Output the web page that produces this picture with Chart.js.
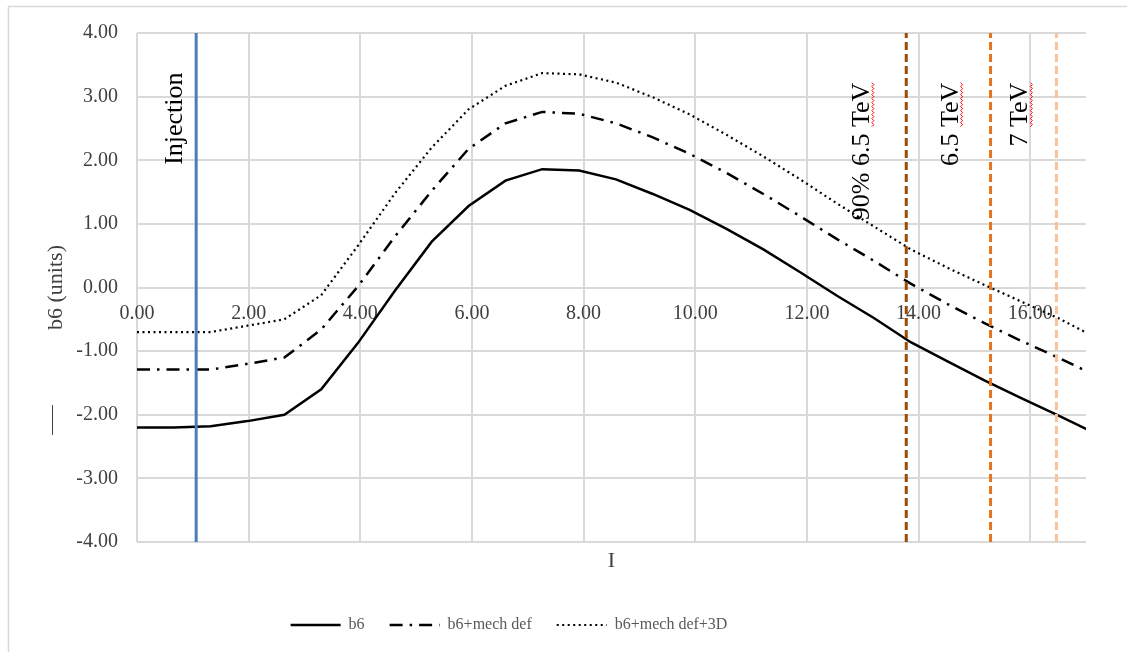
<!DOCTYPE html>
<html>
<head>
<meta charset="utf-8">
<script src="https://cdn.jsdelivr.net/npm/chart.js@4.4.1/dist/chart.umd.min.js"></script>
<style>
  html, body { margin: 0; padding: 0; background: #fff; }
  #wrap { width: 1127px; height: 652px; position: relative; }
</style>
</head>
<body>
<div id="wrap"><canvas id="chart"></canvas></div>
<script>
// current values (x) and the three b6 curves
const currentI = [0, 0.66, 1.32, 1.98, 2.64, 3.30, 3.96, 4.62, 5.28, 5.94, 6.60, 7.26, 7.92, 8.58, 9.24, 9.90, 10.56, 11.22, 11.88, 12.54, 13.20, 13.86, 14.52, 15.18, 15.84, 16.50, 17.16];
const b6 = [-2.20, -2.20, -2.18, -2.10, -2.00, -1.60, -0.87, -0.05, 0.72, 1.28, 1.68, 1.86, 1.84, 1.70, 1.47, 1.22, 0.92, 0.60, 0.24, -0.13, -0.48, -0.86, -1.16, -1.46, -1.74, -2.01, -2.29];
const b6Mech = [-1.29, -1.29, -1.29, -1.20, -1.10, -0.66, 0.02, 0.80, 1.52, 2.18, 2.58, 2.76, 2.73, 2.58, 2.36, 2.10, 1.80, 1.47, 1.12, 0.76, 0.42, 0.06, -0.26, -0.56, -0.84, -1.10, -1.38];
const b6Mech3D = [-0.70, -0.70, -0.70, -0.60, -0.50, -0.12, 0.66, 1.48, 2.20, 2.80, 3.17, 3.37, 3.35, 3.22, 2.99, 2.72, 2.40, 2.06, 1.70, 1.32, 0.96, 0.60, 0.31, 0.04, -0.22, -0.48, -0.78];

// vertical marker lines
const markerX = [1.06, 13.78, 15.29, 16.47];
const markerLabels = ['Injection', '90% 6.5 TeV', '6.5 TeV', '7 TeV'];
const markerColors = ['#4a7ebb', '#9c4a08', '#e8741f', '#f8c29a'];

const yTicks = [-4, -3, -2, -1, 0, 1, 2, 3, 4];

// where the rotated marker labels sit (baseline x, top end y) in data units
const labelSpots = [
  { x: 0.81, y: 3.38, squiggle: false },
  { x: 13.11, y: 3.22, squiggle: true },
  { x: 14.70, y: 3.22, squiggle: true },
  { x: 15.95, y: 3.22, squiggle: true }
];

const serif = '"Liberation Serif", "Times New Roman", serif';

function pts(ys) {
  return currentI.map((x, i) => ({ x: x, y: ys[i] }));
}

const datasets = [];
markerX.forEach((mx, i) => {
  datasets.push({
    label: markerLabels[i],
    data: [{ x: mx, y: -4 }, { x: mx, y: 4 }],
    borderColor: markerColors[i],
    borderWidth: 3,
    borderDash: i === 0 ? [] : [8, 4],
    pointRadius: 0,
    order: 0,
    isMarker: true
  });
});
datasets.push({
  label: 'b6', data: pts(b6), borderColor: '#000', backgroundColor: '#000',
  borderWidth: 2.5, pointRadius: 0, tension: 0, order: 1
});
datasets.push({
  label: 'b6+mech def', data: pts(b6Mech), borderColor: '#000', backgroundColor: '#000',
  borderWidth: 2.5, borderDash: [13, 7, 2.5, 7], pointRadius: 0, tension: 0, order: 1
});
datasets.push({
  label: 'b6+mech def+3D', data: pts(b6Mech3D), borderColor: '#000', backgroundColor: '#000',
  borderWidth: 2.2, borderDash: [2, 3.5], pointRadius: 0, tension: 0, order: 1
});

const evenTicks = (scale) => {
  scale.ticks = scale.ticks.filter(t => Math.abs(t.value % 2) < 1e-9);
};

const decorations = {
  id: 'decorations',
  afterLayout(chart) {
    // legend sits a bit left of centre in the original
    chart.legend.left -= 34;
    chart.legend.right -= 34;
  },
  beforeDraw(chart) {
    const ctx = chart.ctx;
    ctx.save();
    ctx.strokeStyle = '#d9d9d9';
    ctx.lineWidth = 1.5;
    ctx.strokeRect(8.5, 6.5, 1300, 900);
    ctx.restore();
  },
  afterDatasetsDraw(chart) {
    const ctx = chart.ctx;
    const xs = chart.scales.x, ys = chart.scales.y;
    ctx.save();
    ctx.font = '26px ' + serif;
    ctx.fillStyle = '#000';
    labelSpots.forEach((s, i) => {
      const px = xs.getPixelForValue(s.x);
      const py = ys.getPixelForValue(s.y);
      ctx.save();
      ctx.translate(px, py);
      ctx.rotate(-Math.PI / 2);
      ctx.textAlign = 'right';
      ctx.textBaseline = 'alphabetic';
      ctx.fillText(markerLabels[i], 0, 0);
      if (s.squiggle) {
        const w = ctx.measureText('TeV').width;
        ctx.strokeStyle = '#ff0000';
        ctx.lineWidth = 1;
        ctx.beginPath();
        for (let t = 0, k = 0; t <= w; t += 2, k++) {
          const yy = 3.5 + (k % 2 ? 1.5 : -0.5);
          if (t === 0) ctx.moveTo(-t, yy); else ctx.lineTo(-t, yy);
        }
        ctx.stroke();
      }
      ctx.restore();
    });
    ctx.restore();
  },
  afterDraw(chart) {
    const ctx = chart.ctx;
    ctx.save();
    ctx.strokeStyle = '#404040';
    ctx.lineWidth = 1;
    ctx.beginPath();
    ctx.moveTo(52.5, 405);
    ctx.lineTo(52.5, 435);
    ctx.stroke();
    ctx.restore();
  }
};

new Chart(document.getElementById('chart'), {
  type: 'line',
  data: { datasets: datasets },
  options: {
    responsive: true,
    maintainAspectRatio: false,
    animation: false,
    layout: { padding: { left: 0, right: 41, top: 33, bottom: 9 } },
    plugins: {
      legend: {
        position: 'bottom',
        labels: {
          filter: (item, data) => !data.datasets[item.datasetIndex].isMarker,
          generateLabels: (chart) => {
            const items = Chart.defaults.plugins.legend.labels.generateLabels(chart);
            items.forEach(it => {
              const ds = chart.data.datasets[it.datasetIndex];
              it.lineDash = ds.borderDash || [];
              it.lineWidth = ds.borderWidth;
              it.strokeStyle = ds.borderColor;
            });
            return items;
          },
          usePointStyle: true,
          pointStyle: 'line',
          boxWidth: 50,
          pointStyleWidth: 50,
          boxHeight: 16,
          padding: 25,
          color: '#595959',
          font: { family: serif, size: 16 }
        }
      },
      tooltip: { enabled: false }
    },
    scales: {
      x: {
        type: 'linear',
        position: 'bottom',
        min: 0, max: 17,
        ticks: { display: false, stepSize: 2 },
        afterBuildTicks: evenTicks,
        afterFit: (s) => { s.height = 50; },
        grid: { color: '#d9d9d9', lineWidth: 2, drawTicks: false },
        border: { display: false },
        title: { display: true, text: 'I', color: '#404040', font: { family: serif, size: 22 }, padding: { top: 0, bottom: 18 } }
      },
      x2: {
        type: 'linear',
        position: { y: 0 },
        min: 0, max: 17,
        ticks: {
          stepSize: 2,
          padding: 14,
          color: '#404040',
          font: { family: serif, size: 20 },
          maxRotation: 0,
          callback: (v) => v.toFixed(2)
        },
        afterBuildTicks: evenTicks,
        grid: { display: false, drawTicks: false },
        border: { display: false }
      },
      y: {
        min: -4, max: 4,
        afterBuildTicks: (s) => { s.ticks = yTicks.map(v => ({ value: v })); },
        afterFit: (s) => { s.width = 137; },
        ticks: {
          padding: 19,
          color: '#404040',
          font: { family: serif, size: 20 },
          callback: (v) => v.toFixed(2)
        },
        grid: { color: '#d9d9d9', lineWidth: 2, drawTicks: false },
        border: { display: false },
        title: { display: true, text: 'b6 (units)', color: '#404040', font: { family: serif, size: 22 }, padding: { top: 43, bottom: 0 } }
      }
    }
  },
  plugins: [decorations]
});
</script>
</body>
</html>
